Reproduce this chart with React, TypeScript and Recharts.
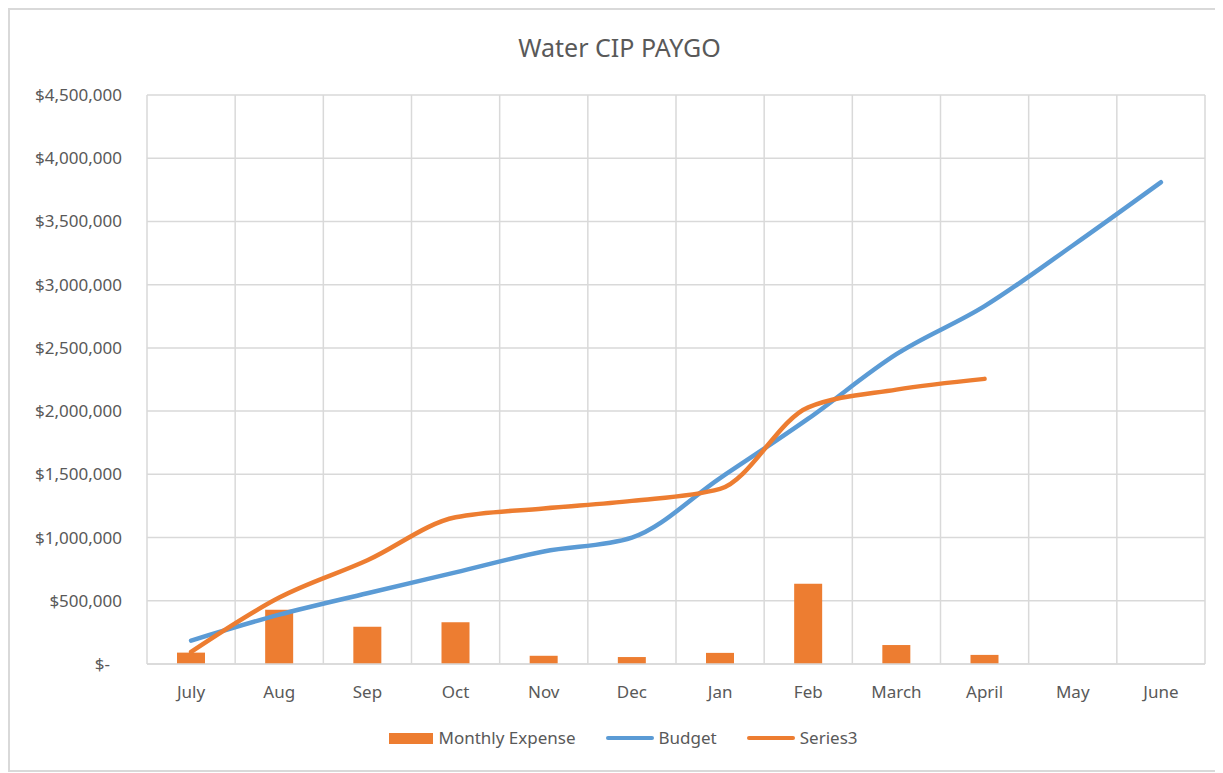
import React from "react";
import {
  ComposedChart,
  Bar,
  Line,
  XAxis,
  YAxis,
  CartesianGrid,
  Legend,
} from "recharts";

const months = ["July", "Aug", "Sep", "Oct", "Nov", "Dec", "Jan", "Feb", "March", "April", "May", "June"];
const monthlyExpense = [90000, 430000, 295000, 330000, 65000, 55000, 88000, 635000, 150000, 72000, null, null];
const budget = [185000, 390000, 560000, 725000, 890000, 1000000, 1470000, 1940000, 2450000, 2830000, 3310000, 3810000];
const series3 = [95000, 525000, 820000, 1160000, 1230000, 1290000, 1385000, 2030000, 2170000, 2255000, null, null];
const yTicks = [0, 500000, 1000000, 1500000, 2000000, 2500000, 3000000, 3500000, 4000000, 4500000];

const data = months.map((m, i) => ({
  name: m,
  expense: monthlyExpense[i],
  budget: budget[i],
  series3: series3[i],
}));

const FONT = "'Noto Sans', sans-serif";
const TEXT = "#595959";
const GRID = "#d9d9d9";
const ORANGE = "#ed7d31";
const BLUE = "#5b9bd5";

const fmt = (v: number) => (v === 0 ? "$-" : "$" + v.toLocaleString("en-US"));

const YTick = (props: any) => {
  const { x, y, payload } = props;
  const shift = payload.value === 0 ? 12 : 0;
  return (
    <text x={x - shift} y={y} dy="0.35em" textAnchor="end" fill={TEXT} fontSize={17} fontFamily={FONT}>
      {fmt(payload.value)}
    </text>
  );
};

// legend drawn like Excel: rect for bars, thick line for series
const LegendContent = () => {
  const item = (swatch: React.ReactNode, label: string, last = false) => (
    <div style={{ display: "flex", alignItems: "center", marginRight: last ? 0 : 30 }}>
      {swatch}
      <span style={{ marginLeft: 5, color: TEXT, fontSize: 17, fontFamily: FONT }}>{label}</span>
    </div>
  );
  return (
    <div style={{ display: "flex", justifyContent: "center", paddingTop: 22, lineHeight: "24px", paddingLeft: 32 }}>
      {item(<div style={{ width: 44, height: 11, background: ORANGE }} />, "Monthly Expense")}
      {item(<div style={{ width: 48, height: 4, borderRadius: 2, background: BLUE }} />, "Budget")}
      {item(<div style={{ width: 48, height: 4, borderRadius: 2, background: ORANGE }} />, "Series3", true)}
    </div>
  );
};

export default function App() {
  return (
    <div
      style={{
        position: "relative",
        width: 1216,
        height: 764,
        boxSizing: "border-box",
        border: `2px solid ${GRID}`,
        background: "#fff",
      }}
    >
      <style>{"body{overflow:hidden}"}</style>
      <div
        style={{
          position: "absolute",
          left: 0,
          top: 20,
          width: 1219,
          textAlign: "center",
          fontFamily: FONT,
          fontSize: 25,
          color: TEXT,
        }}
      >
        Water CIP PAYGO
      </div>
      <ComposedChart
        width={1212}
        height={760}
        data={data}
        margin={{ top: 85, right: 17, left: 0, bottom: 16 }}
      >
        <CartesianGrid
          stroke={GRID}
          strokeWidth={1.5}
          verticalCoordinatesGenerator={({ offset }: any) =>
            Array.from({ length: months.length + 1 }, (_, i) => offset.left + (i * offset.width) / months.length)
          }
        />
        <XAxis
          dataKey="name"
          height={40}
          tickSize={0}
          tickMargin={22}
          axisLine={{ stroke: GRID, strokeWidth: 1.5 }}
          tick={{ fill: TEXT, fontSize: 17, fontFamily: FONT }}
        />
        <YAxis
          width={137}
          domain={[0, 4500000]}
          ticks={yTicks}
          tickSize={0}
          tickMargin={25}
          axisLine={false}
          tickLine={false}
          tick={<YTick />}
          interval={0}
        />
        <Legend verticalAlign="bottom" height={50} content={<LegendContent />} />
        <Bar dataKey="expense" name="Monthly Expense" fill={ORANGE} barSize={28} isAnimationActive={false} />
        <Line
          dataKey="budget"
          name="Budget"
          type="monotone"
          stroke={BLUE}
          strokeWidth={4.5}
          strokeLinecap="round"
          dot={false}
          activeDot={false}
          isAnimationActive={false}
        />
        <Line
          dataKey="series3"
          name="Series3"
          type="monotone"
          stroke={ORANGE}
          strokeWidth={4.5}
          strokeLinecap="round"
          dot={false}
          activeDot={false}
          isAnimationActive={false}
        />
      </ComposedChart>
    </div>
  );
}
